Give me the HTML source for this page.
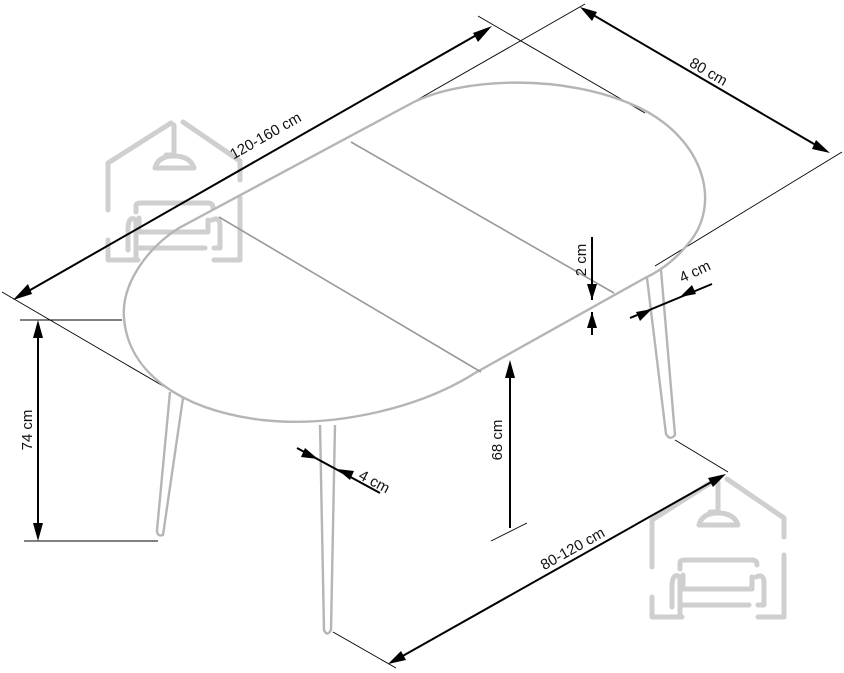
<!DOCTYPE html>
<html><head><meta charset="utf-8"><style>
html,body{margin:0;padding:0;background:#fff;}
svg{display:block;}
text{font-family:"Liberation Sans",sans-serif;font-size:15px;fill:#111;}
</style></head><body>
<svg width="844" height="673" viewBox="0 0 844 673" xmlns="http://www.w3.org/2000/svg">
<defs>
<g id="ico" fill="none" stroke="#cfcfcf" stroke-width="5" stroke-linecap="round" stroke-linejoin="round">
<path d="M0,90 V43 L63,3"/>
<path d="M75,2 L132,41 V60"/>
<path d="M132,78 V140 H106"/>
<path d="M0,120 V140 H30"/>
<path d="M66,5 V35 H58"/>
<path d="M47,48 Q50,36 66,36 Q82,36 86,48 Z"/>
<path d="M28,92 V86 Q28,83 32,83 H100 Q105,83 105,88"/>
<path d="M28,128 V100 Q20,95 20,110 V130"/>
<path d="M104,100 Q112,96 112,106 V128 H106"/>
<path d="M31,98 V112 H100 V100"/>
<path d="M28,140 V128 H97"/>
</g>
</defs>
<use href="#ico" x="108" y="120"/>
<use href="#ico" x="652" y="477"/>

<g stroke="#000" stroke-width="0.9" fill="none">
<line x1="2" y1="292" x2="170" y2="390"/>
<line x1="478" y1="16" x2="645" y2="113"/>
<line x1="410" y1="104" x2="585" y2="4"/>
<line x1="655" y1="266" x2="842" y2="152"/>
<line x1="20" y1="320" x2="122" y2="320"/>
<line x1="24" y1="541" x2="158" y2="541"/>
<line x1="333" y1="632" x2="396" y2="668"/>
<line x1="675" y1="440" x2="728" y2="472"/>
<line x1="491" y1="541" x2="527" y2="523"/>
</g>

<g fill="none" stroke="#b5b5b5" stroke-width="2.4" stroke-linejoin="round">
<path d="M179,228 L412,103 C460,78 565,72 640,108 C705,140 722,205 688,244 C675,260 660,271 645,278 L475,373 C420,408 335,428 262,420 C180,410 128,372 124,318 C121,282 150,246 179,228 Z"/>
<path d="M170,392 L157,530 Q157,537 163,535 L183,398"/>
<path d="M320,425 L324,630 Q327,637 331,630 L335,425"/>
<path d="M647,278 L666,434 Q670,441 675,435 L661,270"/>
</g>
<g stroke="#999" stroke-width="1.6">
<line x1="351" y1="142" x2="614" y2="293"/>
<line x1="219" y1="217" x2="481" y2="372"/>
</g>

<g stroke="#000" stroke-width="2" fill="none">
<line x1="18" y1="297" x2="487" y2="29"/>
<line x1="583" y1="9" x2="826" y2="151"/>
<line x1="38" y1="325" x2="38" y2="537"/>
<line x1="510" y1="366" x2="510" y2="528"/>
<line x1="592" y1="237" x2="592" y2="300"/>
<line x1="592" y1="312" x2="592" y2="335"/>
<line x1="630" y1="318" x2="712" y2="284"/>
<line x1="297" y1="448" x2="380" y2="493"/>
<line x1="392" y1="662" x2="722" y2="476"/>
</g>
<g fill="#000">
<polygon points="13,300 28,284 32,294"/>
<polygon points="492,26 473,33 478,42"/>
<polygon points="580,7 592,21 597,12"/>
<polygon points="830,153 816,140 812,149"/>
<polygon points="38,320 33,338 43,338"/>
<polygon points="38,541 33,523 43,523"/>
<polygon points="510,360 505,378 515,378"/>
<polygon points="592,300 587,284 597,284"/>
<polygon points="592,312 587,328 597,328"/>
<polygon points="652,309 636,312 640,321"/>
<polygon points="680,297 696,294 692,285"/>
<polygon points="318,459 305,448 301,457"/>
<polygon points="337,469 350,480 354,471"/>
<polygon points="388,664 401,651 406,660"/>
<polygon points="726,474 713,487 708,478"/>
</g>

<text transform="translate(268,140) rotate(-29.7)" text-anchor="middle">120-160 cm</text>
<text transform="translate(706,76) rotate(30)" text-anchor="middle">80 cm</text>
<text transform="translate(32,430) rotate(-90)" text-anchor="middle">74 cm</text>
<text transform="translate(502,440) rotate(-90)" text-anchor="middle">68 cm</text>
<text transform="translate(586,260) rotate(-90)" text-anchor="middle">2 cm</text>
<text transform="translate(697,276) rotate(-25)" text-anchor="middle">4 cm</text>
<text transform="translate(372,486) rotate(28)" text-anchor="middle">4 cm</text>
<text transform="translate(575,553) rotate(-29.3)" text-anchor="middle">80-120 cm</text>
</svg>
</body></html>
